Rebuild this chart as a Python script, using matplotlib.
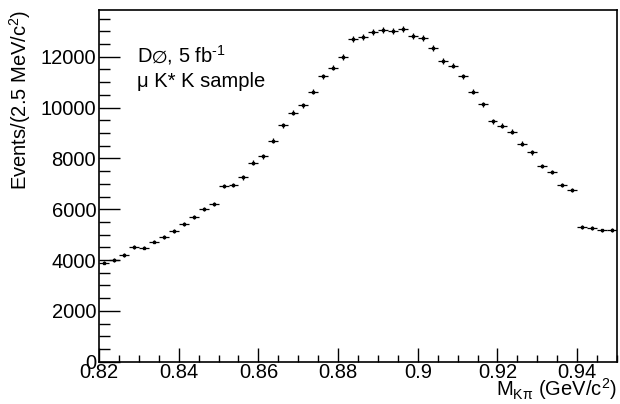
import numpy as np
import matplotlib
matplotlib.use('Agg')
import matplotlib.pyplot as plt
from matplotlib.ticker import MultipleLocator

plt.rcParams['font.family'] = ['Liberation Sans', 'DejaVu Sans']
plt.rcParams['mathtext.fontset'] = 'custom'
plt.rcParams['mathtext.rm'] = 'Liberation Sans'
plt.rcParams['mathtext.it'] = 'Liberation Sans'

# histogram: 2.5 MeV bins from 0.82 to 0.95 GeV
bin_lo = 0.82
bin_width = 0.0025
events = [3895, 4001, 4197, 4512, 4485, 4721, 4906, 5142, 5405, 5681,
          5995, 6204, 6912, 6939, 7254, 7828, 8080, 8694, 9311, 9795,
          10098, 10622, 11227, 11566, 11987, 12683, 12762, 12970, 13049, 13009,
          13088, 12801, 12722, 12341, 11829, 11645, 11227, 10622, 10126, 9469,
          9284, 9048, 8576, 8238, 7699, 7463, 6963, 6743, 5287, 5260,
          5169, 5193]

events = np.array(events)
centers = bin_lo + bin_width * (np.arange(len(events)) + 0.5)
errors = np.sqrt(events)

fig = plt.figure(figsize=(6.2, 4.04), dpi=100)
ax = fig.add_axes([0.1597, 0.1047, 0.8355, 0.8713])

ax.errorbar(centers, events, xerr=bin_width / 2, yerr=errors, fmt='s',
            color='black', markersize=2.0, elinewidth=0.9, capsize=0)

ax.set_xlim(0.82, 0.95)
ax.set_ylim(0, 13850)

ax.xaxis.set_minor_locator(MultipleLocator(0.005))
ax.yaxis.set_major_locator(MultipleLocator(2000))
ax.yaxis.set_minor_locator(MultipleLocator(500))
ax.set_xticks([0.82, 0.84, 0.86, 0.88, 0.90, 0.92, 0.94])
ax.set_xticklabels(['0.82', '0.84', '0.86', '0.88', '0.9', '0.92', '0.94'])

ax.tick_params(which='both', direction='in', top=False, right=False,
               labelsize=14.5, width=1, color='black')
ax.tick_params(axis='y', which='major', length=15, pad=2)
ax.tick_params(axis='y', which='minor', length=8)
ax.tick_params(axis='x', which='major', length=10, pad=1)
ax.tick_params(axis='x', which='minor', length=5)
for s in ax.spines.values():
    s.set_linewidth(1.2)

fig.text(0.995, 0.005, r'M$_{\mathrm{K\pi}}$ (GeV/c$^{2}$)', ha='right',
         va='bottom', fontsize=14.5)
fig.text(0.032, 0.976, r'Events/(2.5 MeV/c$^{2}$)', rotation=90, ha='center',
         va='top', fontsize=14.5)

ax.text(0.073, 0.87, r'D$\varnothing$, 5 fb$^{\text{-}1}$', transform=ax.transAxes,
        fontsize=14.5, ha='left', va='center')
ax.text(0.073, 0.795, '\u03bc K* K sample', transform=ax.transAxes,
        fontsize=14.5, ha='left', va='center')

fig.savefig('out.png', dpi=100)
